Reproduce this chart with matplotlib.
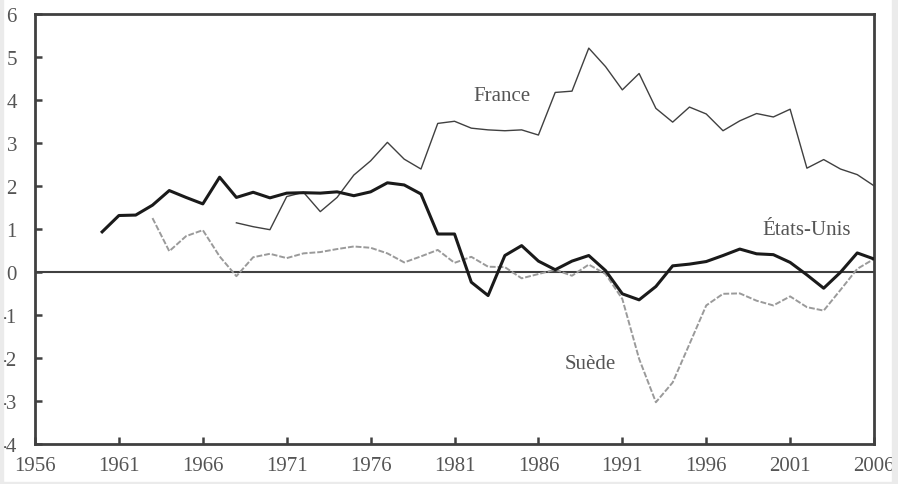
import matplotlib

matplotlib.use("Agg")
import matplotlib.pyplot as plt
from matplotlib.patches import Rectangle

plt.rcParams.update({"font.family": "Liberation Serif", "font.size": 15})

# solde en %
years_us = list(range(1960, 2007))
us = [0.93, 1.31, 1.32, 1.55, 1.89, 1.73, 1.58, 2.20, 1.73, 1.85,
      1.72, 1.83, 1.84, 1.83, 1.86, 1.77, 1.86, 2.07, 2.02, 1.81,
      0.88, 0.88, -0.24, -0.55, 0.38, 0.61, 0.25, 0.05, 0.25, 0.38,
      0.03, -0.51, -0.65, -0.34, 0.14, 0.18, 0.24, 0.38, 0.53, 0.42,
      0.40, 0.22, -0.07, -0.38, -0.01, 0.44, 0.30]

years_fr = list(range(1968, 2007))
france = [1.14, 1.05, 0.98, 1.75, 1.85, 1.40, 1.73, 2.25, 2.58, 3.01,
          2.62, 2.39, 3.45, 3.50, 3.34, 3.30, 3.28, 3.30, 3.18, 4.17,
          4.20, 5.20, 4.77, 4.23, 4.61, 3.80, 3.48, 3.83, 3.67, 3.28,
          3.51, 3.68, 3.60, 3.78, 2.41, 2.61, 2.39, 2.26, 2.00]

years_se = list(range(1963, 2007))
suede = [1.25, 0.48, 0.83, 0.97, 0.36, -0.10, 0.34, 0.42, 0.32, 0.43,
         0.46, 0.53, 0.59, 0.56, 0.43, 0.22, 0.36, 0.51, 0.21, 0.35,
         0.12, 0.11, -0.15, -0.05, 0.05, -0.09, 0.17, -0.05, -0.63, -2.02,
         -3.03, -2.57, -1.68, -0.78, -0.51, -0.50, -0.67, -0.78, -0.57, -0.82,
         -0.90, -0.42, 0.07, 0.30]

xticks = list(range(1956, 2007, 5))
yticks = list(range(-4, 7))

dark = "#404040"
txt = "#555555"

fig = plt.figure(figsize=(8.98, 4.85), dpi=100)
ax = fig.add_axes([0.039, 0.0825, 0.9343, 0.8872])

ax.axhline(0, color=dark, lw=1.5, zorder=1)
ax.plot(years_se, suede, color="#9a9a9a", lw=1.4, ls=(0, (3, 1)), zorder=2)
ax.plot(years_fr, france, color=dark, lw=1.0, zorder=3)
ax.plot(years_us, us, color="#1a1a1a", lw=2.2, zorder=4)

ax.set_xlim(1956, 2006)
ax.set_ylim(-4, 6)
ax.set_xticks(xticks)
ax.set_yticks(yticks)
ax.set_yticklabels([str(v).replace("-", "-") for v in yticks])
ax.tick_params(axis="both", direction="in", length=5, width=1.8, color=dark,
               labelcolor=txt, labelsize=15)
ax.tick_params(axis="x", pad=9)
ax.tick_params(axis="y", pad=13)
for s in ax.spines.values():
    s.set_color(dark)
    s.set_linewidth(2.0)

ax.text(1989.6 - 5.8, 4.1, "France", color=txt, fontsize=15, ha="center", va="center")
ax.text(2002.0, 0.99, "États-Unis", color=txt, fontsize=15, ha="center", va="center")
ax.text(1989.1, -2.14, "Suède", color=txt, fontsize=15, ha="center", va="center")

# bordure grise de la figure
for r in [(0, 0, 0.003, 1), (0.9935, 0, 0.0065, 1), (0, 0, 1, 0.005)]:
    fig.patches.append(Rectangle(r[:2], r[2], r[3], transform=fig.transFigure,
                                 color="#ebebeb", zorder=0))

fig.savefig("out.png", dpi=100)
